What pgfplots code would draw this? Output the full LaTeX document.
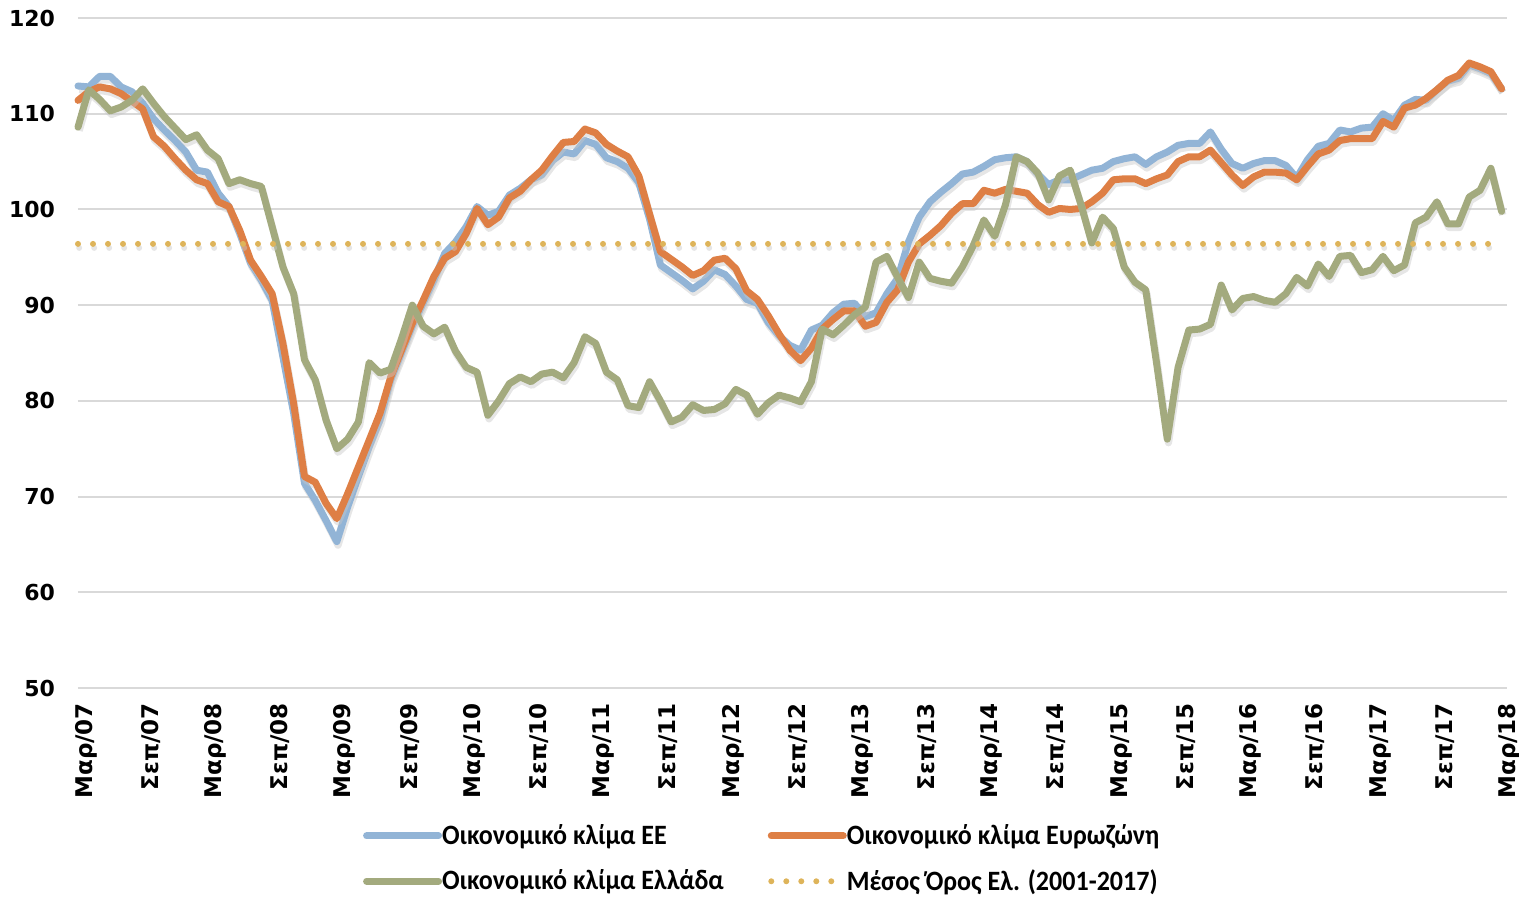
\documentclass[border=0pt]{standalone}
\usepackage{fontspec}
\setmainfont{DejaVu Sans}
\newfontfamily\legfont[FakeStretch=0.93]{Carlito}
\usepackage{pgfplots}
\usepackage{pgfplotstable}
\pgfplotsset{compat=1.18}
\definecolor{eeblue}{HTML}{92B4D6}
\definecolor{ezorange}{HTML}{DE7F45}
\definecolor{grgreen}{HTML}{A3AA7E}
\definecolor{avggold}{HTML}{DEB45A}
\definecolor{gridgray}{HTML}{D9D9D9}

% month index (0 = Mar/07), EU, euro area, Greece
\pgfplotstableread{
m ee ez gr
0 112.9 111.4 108.6
1 112.8 112.3 112.5
2 113.9 112.8 111.5
3 113.9 112.6 110.3
4 112.8 112.1 110.7
5 112.3 111.3 111.4
6 111.1 110.5 112.6
7 109.5 107.6 111.1
8 108.3 106.6 109.7
9 107.2 105.3 108.5
10 106.0 104.1 107.3
11 104.1 103.1 107.8
12 103.9 102.7 106.2
13 101.7 100.8 105.3
14 100.3 100.3 102.7
15 97.5 97.8 103.1
16 94.4 94.7 102.7
17 92.6 93.0 102.4
18 90.5 91.2 98.2
19 84.6 86.0 94.0
20 78.7 79.7 91.2
21 71.4 72.1 84.3
22 69.6 71.5 82.2
23 67.5 69.3 78.0
24 65.3 67.7 75.0
25 68.9 70.3 76.0
26 72.1 73.1 77.8
27 75.2 75.9 84.0
28 78.0 78.7 82.9
29 82.2 82.5 83.3
30 85.0 85.3 86.5
31 87.8 88.1 90.0
32 90.2 90.5 87.8
33 92.6 93.0 87.0
34 95.4 94.9 87.7
35 96.6 95.6 85.2
36 98.2 97.5 83.5
37 100.3 100.1 83.0
38 99.4 98.4 78.5
39 99.8 99.2 80.0
40 101.5 101.2 81.8
41 102.2 101.9 82.5
42 103.1 103.1 82.0
43 103.6 104.1 82.8
44 105.1 105.6 83.0
45 106.0 107.0 82.4
46 105.8 107.1 84.0
47 107.2 108.4 86.7
48 106.8 108.0 86.0
49 105.4 106.8 83.0
50 105.0 106.1 82.2
51 104.3 105.5 79.5
52 102.8 103.5 79.3
53 99.0 99.5 82.0
54 94.2 95.6 80.0
55 93.4 94.8 77.8
56 92.6 94.0 78.3
57 91.7 93.1 79.6
58 92.5 93.6 79.0
59 93.7 94.7 79.1
60 93.2 94.9 79.7
61 92.0 93.8 81.2
62 90.6 91.5 80.6
63 90.2 90.6 78.6
64 88.2 88.9 79.8
65 86.8 87.0 80.6
66 85.8 85.3 80.3
67 85.3 84.2 79.9
68 87.4 85.5 82.0
69 87.9 87.5 87.5
70 89.2 88.5 86.9
71 90.1 89.4 87.9
72 90.2 89.4 89.0
73 88.8 87.8 89.8
74 89.2 88.2 94.5
75 91.2 90.3 95.1
76 92.8 91.6 92.9
77 96.6 94.5 90.8
78 99.2 96.4 94.5
79 100.8 97.3 92.8
80 101.8 98.3 92.5
81 102.7 99.6 92.3
82 103.7 100.6 94.0
83 103.9 100.6 96.2
84 104.5 102.0 98.9
85 105.2 101.7 97.2
86 105.4 102.1 100.5
87 105.5 101.9 105.5
88 105.0 101.7 105.0
89 103.7 100.5 103.8
90 102.6 99.7 101.0
91 103.1 100.1 103.5
92 103.1 100.0 104.1
93 103.6 100.1 100.5
94 104.1 100.8 96.5
95 104.3 101.7 99.2
96 105.0 103.1 98.0
97 105.3 103.2 94.0
98 105.5 103.2 92.4
99 104.7 102.7 91.6
100 105.5 103.2 84.0
101 106.0 103.6 76.0
102 106.7 105.0 83.5
103 106.9 105.5 87.4
104 106.9 105.5 87.5
105 108.1 106.2 88.0
106 106.3 104.9 92.1
107 104.8 103.6 89.5
108 104.3 102.5 90.7
109 104.8 103.4 90.9
110 105.1 103.9 90.5
111 105.1 103.9 90.3
112 104.6 103.8 91.2
113 103.3 103.1 92.9
114 105.2 104.5 92.0
115 106.6 105.8 94.3
116 106.9 106.2 93.0
117 108.3 107.2 95.1
118 108.1 107.4 95.2
119 108.5 107.4 93.4
120 108.6 107.4 93.7
121 110.0 109.2 95.1
122 109.3 108.6 93.6
123 110.9 110.6 94.2
124 111.5 110.9 98.6
125 111.4 111.6 99.2
126 112.5 112.5 100.8
127 113.4 113.5 98.5
128 113.7 114.0 98.5
129 115.1 115.3 101.3
130 114.7 114.9 102.0
131 114.2 114.4 104.3
132 112.6 112.6 99.8
}\climate

\begin{document}
\begin{tikzpicture}
\useasboundingbox (-39pt,-107pt) rectangle (720.5pt,344pt);
\begin{axis}[
  at={(0pt,0pt)}, anchor=south west,
  scale only axis,
  width=714.5pt, height=335pt,
  xmin=0, xmax=132.5,
  ymin=50, ymax=120,
  ytick={50,60,...,120},
  yticklabels={50,60,70,80,90,100,110,120},
  xtick={0,6,...,132},
  xticklabels={Μαρ/07,Σεπ/07,Μαρ/08,Σεπ/08,Μαρ/09,Σεπ/09,Μαρ/10,Σεπ/10,Μαρ/11,Σεπ/11,Μαρ/12,Σεπ/12,Μαρ/13,Σεπ/13,Μαρ/14,Σεπ/14,Μαρ/15,Σεπ/15,Μαρ/16,Σεπ/16,Μαρ/17,Σεπ/17,Μαρ/18},
  ymajorgrids,
  grid style={gridgray, line width=1pt},
  axis line style={draw=none},
  major tick length=0pt,
  yticklabel style={font=\bfseries\fontsize{11}{12}\selectfont, anchor=east, xshift=-8pt},
  xticklabel style={font=\bfseries\fontsize{11.5}{13}\selectfont, xshift=4pt, yshift=-4pt, rotate=90, anchor=east},
  clip=false,
  legend columns=2,
  legend cell align=left,
  legend image code/.code={\draw[#1] (0pt,0pt) -- (36pt,0pt);},
  legend style={
    at={(0.195,-0.191)}, anchor=north west,
    draw=none, fill=none,
    font=\legfont\bfseries\fontsize{14}{16}\selectfont,
    row sep=7pt,
    nodes={inner xsep=0pt},
    /tikz/every even column/.append style={column sep=22pt},
  },
]
% soft shadows under the lines
\addplot[black!22, line width=3.6pt, opacity=0.45, line join=round, yshift=-1.8pt, xshift=0.6pt, forget plot] table[x=m, y=ee] {\climate};
\addplot[eeblue, line width=3.5pt, line cap=round, line join=round] table[x=m, y=ee] {\climate};
\addlegendentry{Οικονομικό κλίμα ΕΕ}
\addplot[black!22, line width=3.6pt, opacity=0.45, line join=round, yshift=-1.8pt, xshift=0.6pt, forget plot] table[x=m, y=ez] {\climate};
\addplot[ezorange, line width=3.5pt, line cap=round, line join=round] table[x=m, y=ez] {\climate};
\addlegendentry{Οικονομικό κλίμα Ευρωζώνη}
\addplot[black!22, line width=3.6pt, opacity=0.45, line join=round, yshift=-1.8pt, xshift=0.6pt, forget plot] table[x=m, y=gr] {\climate};
\addplot[grgreen, line width=3.5pt, line cap=round, line join=round] table[x=m, y=gr] {\climate};
\addlegendentry{Οικονομικό κλίμα Ελλάδα}
\addplot[black!22, line width=3pt, opacity=0.45, line cap=round, dash pattern=on 0pt off 7.5pt, yshift=-2pt, xshift=0.6pt, forget plot] coordinates {(0,96.4) (132,96.4)};
\addplot[avggold, line width=3pt, line cap=round, dash pattern=on 0pt off 7.5pt] coordinates {(0,96.4) (132,96.4)};
\addlegendentry{Μέσος Όρος Ελ. (2001-2017)}
\end{axis}
\end{tikzpicture}
\end{document}
